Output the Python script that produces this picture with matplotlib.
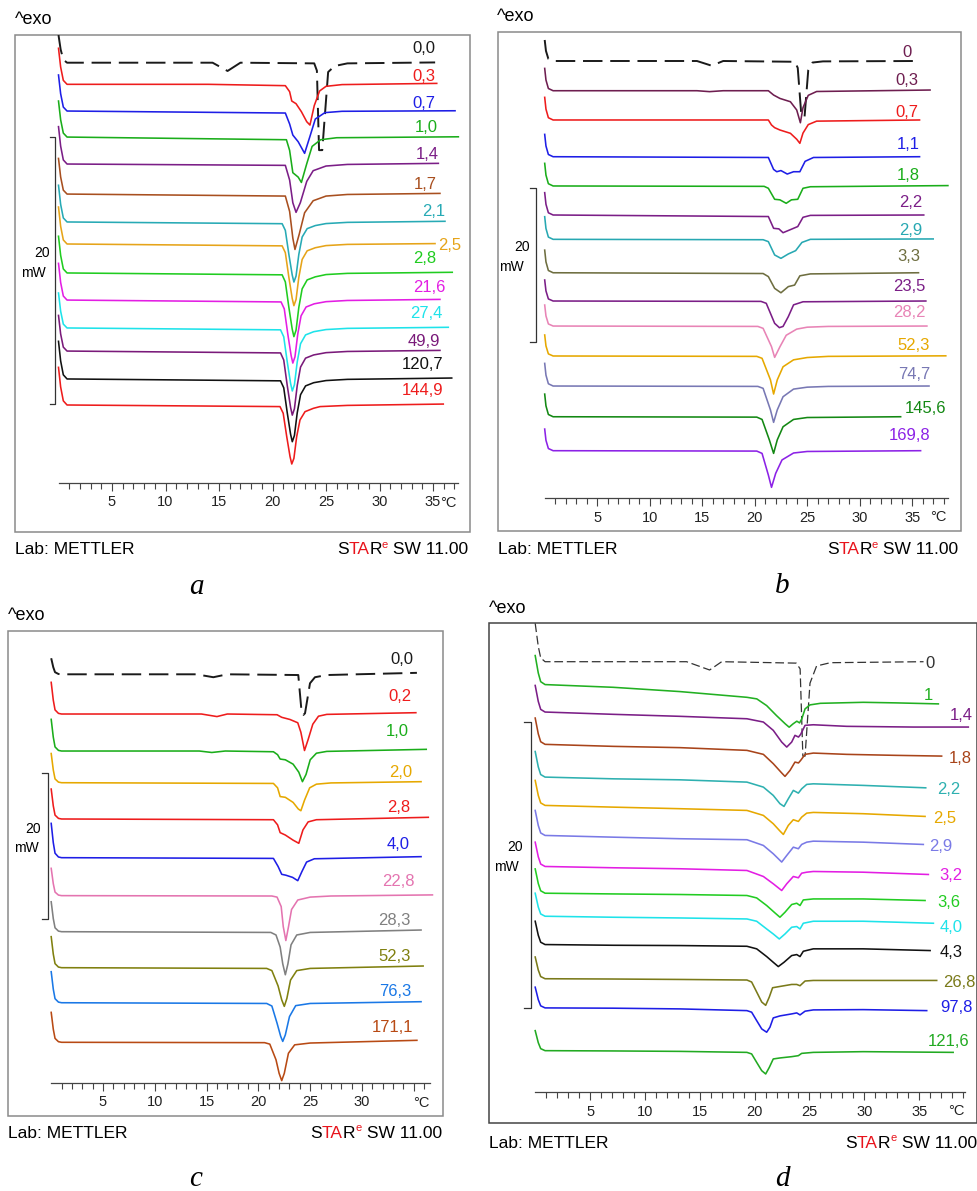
import matplotlib
matplotlib.use("Agg")
import matplotlib.pyplot as plt
from matplotlib.patches import Rectangle
from matplotlib.ticker import FixedLocator, FixedFormatter

W, H = 977, 1191
NARROW = ["Liberation Sans Narrow", "Liberation Sans", "DejaVu Sans"]
SANS = ["Liberation Sans", "DejaVu Sans"]
SERIF = ["Liberation Serif", "DejaVu Serif"]
RED = "#e8141c"

# ---------------- panel a  (T in degC, heat flow in mW, relative to each baseline) ----------------
a_labels = ["0,0", "0,3", "0,7", "1,0", "1,4", "1,7", "2,1", "2,5", "2,8", "21,6", "27,4", "49,9", "120,7", "144,9"]
a_colors = ["#1a1a1a", "#ee1c1c", "#1e1ee6", "#1aad1a", "#7b1e87", "#a84f1f", "#27aab5", "#e6a419",
            "#20cc20", "#e31ee3", "#1ee3ea", "#7a1a7a", "#111111", "#ee1c1c"]
a_base = [0, -1.62, -3.62, -5.57, -7.59, -9.84, -11.93, -13.58, -15.75, -17.78, -19.87, -21.6, -23.69, -25.64]
a_start = [2.07, 2.7, 2.7, 2.7, 2.8, 2.67, 2.75, 2.77, 2.75, 2.75, 2.62, 2.67, 2.82, 2.82]
a_start_shape = [(0.0, 1.0), (0.2, 0.48), (0.45, 0.11)]
a_curves = [
    [(0.8, 0), (14.4, 0), (15.8, -0.62), (17.0, 0), (23.9, -0.05), (24.15, -0.6), (24.35, -6.55), (24.65, -6.55),
     (25.2, -0.7), (25.8, -0.25), (27, -0.05), (35.2, 0.02)],
    [(0.8, 0), (14, 0), (21.2, -0.1), (21.6, -0.55), (21.8, -1.25), (22.2, -1.45), (22.7, -2.05), (23.2, -2.8),
     (23.5, -3.05), (23.9, -1.6), (24.4, -0.5), (25.0, -0.15), (26.5, -0.02), (35.35, 0.07)],
    [(0.8, 0), (21.2, -0.15), (21.6, -0.97), (21.9, -1.8), (22.4, -2.3), (23.0, -3.17), (23.5, -1.9), (24.0, -0.6),
     (24.9, -0.12), (26.5, -0.02), (37.06, 0.02)],
    [(0.8, 0), (21.3, -0.2), (21.6, -1.0), (21.9, -2.67), (22.4, -3.0), (22.7, -3.4), (23.2, -2.0), (23.7, -0.7),
     (24.5, -0.2), (26, -0.05), (37.37, 0.02)],
    [(0.8, 0), (21.2, -0.1), (21.6, -1.2), (21.9, -2.9), (22.2, -3.62), (22.6, -2.9), (23.2, -1.3), (23.8, -0.5),
     (25, -0.15), (27, -0.03), (35.5, 0.05)],
    [(0.8, 0), (21.2, -0.15), (21.6, -1.3), (21.9, -3.3), (22.1, -4.15), (22.5, -3.0), (23.0, -1.4), (23.8, -0.5),
     (25, -0.15), (27, -0.03), (35.65, 0.05)],
    [(0.8, 0), (20.9, -0.13), (21.2, -0.63), (21.53, -2.43), (21.84, -3.96), (22.0, -4.5), (22.2, -4.05),
     (22.46, -2.43), (22.77, -1.13), (23.24, -0.5), (24.0, -0.27), (25, -0.12), (27, -0.03), (36.12, 0.05)],
    [(0.8, 0), (20.9, -0.14), (21.2, -0.65), (21.53, -2.5), (21.84, -4.07), (22.0, -4.62), (22.2, -4.16),
     (22.46, -2.5), (22.77, -1.16), (23.24, -0.51), (24.0, -0.28), (25, -0.12), (27, -0.03), (35.19, 0.03)],
    [(0.8, 0), (20.9, -0.14), (21.2, -0.67), (21.53, -2.58), (21.84, -4.2), (22.0, -4.77), (22.2, -4.29),
     (22.46, -2.58), (22.77, -1.19), (23.24, -0.52), (24.0, -0.29), (25, -0.12), (27, -0.03), (36.8, 0.05)],
    [(0.8, 0), (20.8, -0.14), (21.1, -0.66), (21.43, -2.55), (21.74, -4.15), (21.9, -4.72), (22.1, -4.25),
     (22.36, -2.55), (22.67, -1.18), (23.14, -0.52), (23.9, -0.28), (25, -0.12), (27, -0.03), (35.65, 0.05)],
    [(0.8, 0), (20.75, -0.14), (21.05, -0.66), (21.38, -2.55), (21.69, -4.15), (21.85, -4.72), (22.05, -4.25),
     (22.31, -2.55), (22.62, -1.18), (23.09, -0.52), (23.85, -0.28), (25, -0.12), (27, -0.03), (36.43, 0.05)],
    [(0.8, 0), (20.75, -0.14), (21.05, -0.67), (21.38, -2.59), (21.69, -4.22), (21.85, -4.8), (22.05, -4.32),
     (22.31, -2.59), (22.62, -1.2), (23.09, -0.53), (23.85, -0.29), (25, -0.12), (27, -0.03), (35.65, 0.05)],
    [(0.8, 0), (20.75, -0.14), (21.05, -0.66), (21.38, -2.54), (21.69, -4.14), (21.85, -4.7), (22.05, -4.23),
     (22.31, -2.54), (22.62, -1.18), (23.09, -0.52), (23.85, -0.28), (25, -0.12), (27, -0.03), (36.75, 0.07)],
    [(0.8, 0), (20.7, -0.12), (21.0, -0.62), (21.33, -2.37), (21.64, -3.87), (21.8, -4.42), (22.0, -4.0),
     (22.26, -2.37), (22.57, -1.12), (23.04, -0.5), (23.82, -0.25), (24.44, -0.12), (27, -0.03), (35.96, 0.07)],
]
a_label_x = [35.2, 35.2, 35.2, 35.4, 35.5, 35.35, 36.12, 37.68, 35.35, 36.19, 35.87, 35.65, 35.96, 35.96]
a_label_dy = [1.1, 0.55, 0.6, 0.75, 0.75, 0.75, 0.75, -0.15, 1.05, 0.97, 1.1, 0.75, 1.1, 1.1]

# ---------------- panel b ----------------
b_labels = ["0", "0,3", "0,7", "1,1", "1,8", "2,2", "2,9", "3,3", "23,5", "28,2", "52,3", "74,7", "145,6", "169,8"]
b_colors = ["#1a1a1a", "#6e1e50", "#ee1c1c", "#1e1ee6", "#1aad1a", "#7b1e87", "#27a8b2", "#6e6e40",
            "#7b1e87", "#e884b6", "#e6a800", "#7878b4", "#138813", "#8c22e6"]
b_label_colors = ["#6e1e50"] + b_colors[1:]
b_base = [0, -3.86, -7.66, -12.43, -16.23, -20.0, -23.16, -27.5, -31.17, -34.42, -38.31, -42.21, -46.2, -50.61]
b_start = [2.73, 2.9, 2.94, 2.9, 2.94, 2.9, 2.94, 2.94, 2.73, 2.73, 2.73, 2.94, 2.94, 2.81]
b_start_shape = [(0.0, 1.0), (0.12, 0.48), (0.35, 0.1)]
b_curves = [
    [(0.8, 0), (14.5, 0), (15.9, -0.61), (17.0, 0), (23.84, -0.1), (24.1, -0.9), (24.45, -7.2), (24.75, -7.2),
     (25.1, -1.2), (25.5, -0.2), (26.5, -0.05), (35.3, 0)],
    [(0.8, 0), (14.5, 0), (15.7, -0.12), (17, 0), (21.3, 0), (21.8, -0.56), (22.4, -1.0), (23.4, -1.43),
     (24.0, -2.5), (24.35, -4.16), (24.6, -2.2), (25.1, -0.6), (25.9, -0.1), (36.7, 0.09)],
    [(0.8, 0), (21.3, 0), (21.6, -0.65), (21.9, -1.0), (22.4, -1.3), (23.4, -1.73), (24.0, -2.5), (24.3, -3.03),
     (24.6, -1.7), (25.1, -0.6), (25.9, -0.15), (35.7, 0.0)],
    [(0.8, 0), (21.3, -0.1), (21.8, -1.65), (22.1, -1.95), (22.5, -1.8), (23.1, -2.25), (23.7, -1.95),
     (24.3, -1.95), (24.8, -0.6), (25.6, -0.1), (35.7, 0.0)],
    [(0.8, 0), (20.9, -0.05), (21.3, -0.3), (21.9, -1.73), (22.4, -1.8), (23.0, -2.25), (23.5, -1.8),
     (24.1, -1.73), (24.6, -0.3), (25.3, -0.1), (38.4, 0.05)],
    [(0.8, 0), (21.3, -0.2), (21.8, -1.73), (22.3, -1.8), (22.7, -2.3), (23.4, -1.9), (24.1, -1.5),
     (24.6, -0.3), (25.3, -0.05), (36.1, 0.0)],
    [(0.8, 0), (20.8, -0.05), (21.3, -0.3), (21.9, -2.03), (22.5, -2.47), (23.2, -1.9), (23.9, -1.47),
     (24.5, -0.4), (25.3, 0), (37.0, 0.05)],
    [(0.8, 0), (20.8, -0.1), (21.3, -0.5), (21.9, -2.03), (22.5, -2.6), (23.2, -1.8), (23.8, -1.6),
     (24.3, -0.4), (25.3, -0.15), (35.6, 0.0)],
    [(0.8, 0), (20.6, -0.05), (21.1, -0.3), (21.9, -2.9), (22.35, -3.46), (22.7, -3.3), (23.2, -2.03),
     (23.7, -0.5), (24.6, -0.1), (36.3, 0.0)],
    [(0.8, 0), (20.3, -0.05), (20.8, -0.3), (21.6, -2.68), (21.9, -4.07), (22.4, -2.7), (23.0, -1.2),
     (24.0, -0.4), (25.0, -0.15), (27, -0.05), (36.4, 0.0)],
    [(0.8, 0), (20.2, -0.05), (20.7, -0.3), (21.5, -3.1), (21.8, -4.94), (22.15, -3.1), (22.7, -1.4),
     (23.7, -0.5), (25.0, -0.2), (27, -0.05), (38.2, 0.02)],
    [(0.8, 0), (20.3, -0.05), (20.8, -0.3), (21.5, -3.1), (21.8, -4.72), (22.15, -3.1), (22.7, -1.39),
     (23.7, -0.4), (25, -0.15), (27, -0.05), (36.6, 0.0)],
    [(0.8, 0), (20.2, -0.05), (20.7, -0.35), (21.4, -3.03), (21.8, -4.76), (22.15, -3.0), (22.7, -1.3),
     (23.7, -0.35), (25, -0.1), (33.9, 0.0)],
    [(0.8, 0), (20.2, -0.05), (20.7, -0.35), (21.3, -3.16), (21.6, -4.76), (22.0, -2.94), (22.6, -1.2),
     (23.7, -0.3), (25, -0.1), (35.8, 0.0)],
]
b_label_x = [34.95, 35.58, 35.58, 35.74, 35.74, 36.0, 36.0, 35.74, 36.22, 36.31, 36.7, 36.7, 38.29, 36.7]
b_label_dy = [1.04, 1.39, 1.0, 1.65, 1.3, 1.65, 1.2, 2.17, 1.86, 1.78, 1.39, 1.56, 1.09, 1.91]

# ---------------- panel c ----------------
c_labels = ["0,0", "0,2", "1,0", "2,0", "2,8", "4,0", "22,8", "28,3", "52,3", "76,3", "171,1"]
c_colors = ["#1a1a1a", "#ee1c1c", "#1aad1a", "#e6a800", "#ee1c1c", "#1e1ee6", "#e474b0", "#808080",
            "#80800f", "#1a78e6", "#b84a14"]
c_base = [0, -5.44, -10.51, -14.85, -19.82, -25.12, -30.32, -35.26, -40.19, -44.99, -50.41]
c_start = [2.2, 4.34, 4.34, 4.0, 4.1, 4.7, 3.74, 4.1, 4.25, 4.25, 4.1]
c_start_shape = [(0.0, 1.0), (0.2, 0.44), (0.37, 0.13), (0.7, 0.02)]
c_curves = [
    [(1.0, 0), (14.0, 0), (15.65, -0.4), (17.0, 0), (23.85, -0.1), (24.18, -5.34), (24.34, -5.57), (24.5, -5.34),
     (24.98, -1.23), (25.46, -0.4), (26.6, -0.1), (35.3, 0.2)],
    [(1.0, 0), (14.5, 0), (16.0, -0.35), (17.0, 0), (21.8, -0.1), (22.25, -0.45), (23.05, -0.75), (23.8, -1.2),
     (24.1, -2.5), (24.45, -5.0), (24.8, -3.5), (25.25, -1.4), (25.8, -0.3), (26.6, -0.05), (35.2, 0.18)],
    [(1.0, 0), (14.3, 0), (15.5, -0.2), (16.8, 0), (21.45, -0.1), (21.85, -0.5), (22.1, -1.1), (22.6, -1.2),
     (23.35, -1.8), (23.9, -2.9), (24.25, -4.2), (24.6, -3.2), (25.0, -1.2), (25.6, -0.3), (26.6, -0.05),
     (36.2, 0.23)],
    [(1.0, 0), (21.45, -0.1), (21.85, -0.7), (22.1, -1.9), (22.6, -2.0), (23.35, -2.7), (23.85, -3.6),
     (24.1, -3.84), (24.45, -2.4), (24.95, -0.7), (25.6, -0.2), (27, -0.03), (35.7, 0.14)],
    [(1.0, 0), (21.45, -0.1), (21.85, -0.8), (22.1, -1.87), (22.6, -2.2), (23.35, -2.9), (23.9, -3.33),
     (24.3, -1.5), (24.8, -0.4), (25.6, -0.1), (36.4, 0.23)],
    [(1.0, 0), (21.45, -0.1), (21.9, -1.2), (22.25, -2.28), (22.65, -2.4), (23.3, -2.7), (23.8, -3.15),
     (24.2, -1.9), (24.65, -0.6), (25.4, -0.15), (35.7, 0.14)],
    [(1.0, 0), (21.3, -0.05), (21.8, -0.2), (22.2, -1.5), (22.4, -4.25), (22.65, -6.15), (22.9, -4.3),
     (23.2, -1.9), (23.8, -0.6), (25.0, -0.2), (27, -0.05), (36.8, 0.1)],
    [(1.0, 0), (21.2, -0.1), (21.7, -0.45), (22.1, -2.1), (22.35, -4.4), (22.6, -5.9), (22.85, -4.4),
     (23.15, -1.8), (23.7, -0.45), (25, -0.1), (35.7, 0.23)],
    [(1.0, 0), (20.8, -0.1), (21.3, -0.4), (21.9, -2.5), (22.25, -4.4), (22.5, -5.3), (22.75, -4.2),
     (23.1, -1.7), (23.7, -0.4), (25, -0.1), (35.9, 0.23)],
    [(1.0, 0), (20.8, -0.1), (21.3, -0.45), (21.8, -2.8), (22.15, -4.6), (22.35, -5.3), (22.6, -4.4),
     (23.0, -1.9), (23.6, -0.4), (25, -0.1), (35.7, 0.14)],
    [(1.0, 0), (20.6, -0.05), (21.1, -0.25), (21.7, -2.4), (22.0, -4.25), (22.25, -5.25), (22.5, -4.25),
     (22.9, -1.5), (23.5, -0.35), (25, -0.1), (35.3, 0.27)],
]
c_label_x = [34.92, 34.73, 34.54, 34.89, 34.63, 34.63, 35.12, 34.7, 34.7, 34.73, 34.95]
c_label_dy = [1.96, 2.37, 2.64, 1.37, 1.6, 1.84, 1.92, 1.6, 1.5, 1.5, 2.05]

# ---------------- panel d ----------------
d_labels = ["0", "1", "1,4", "1,8", "2,2", "2,5", "2,9", "3,2", "3,6", "4,0", "4,3", "26,8", "97,8", "121,6"]
d_colors = ["#333333", "#22b022", "#7b1e87", "#a8441a", "#2eb0b0", "#e6a800", "#7a7ae6", "#e31ee3",
            "#22cc22", "#1ee3ea", "#111111", "#7a7a1a", "#1e1ee6", "#22aa22"]
d_base = [0, -1.6, -3.52, -5.78, -8.07, -10.05, -12.15, -14.32, -16.19, -17.8, -19.78, -22.17, -24.21, -27.2]
d_start = [2.68, 2.03, 1.86, 1.84, 1.79, 1.75, 1.75, 1.7, 1.7, 1.61, 1.63, 1.52, 1.45, 1.4]
d_start_shape = [(0.0, 1.0), (0.28, 0.4), (0.5, 0.1)]
d_curves = [
    [(0.9, 0), (13.8, 0), (15.9, -0.58), (17.0, 0), (23.8, -0.1), (24.15, -0.5), (24.4, -6.6), (24.6, -6.6),
     (25.05, -1.5), (25.65, -0.3), (26.9, -0.07), (35.4, 0)],
    [(0.9, 0), (7.1, -0.19), (13.2, -0.49), (19.3, -0.89), (20.2, -1.0), (21.1, -1.47), (22.0, -2.17),
     (22.8, -2.75), (23.15, -2.98), (23.5, -2.75), (23.85, -2.56), (24.1, -2.68), (24.3, -2.4), (24.6, -1.7),
     (25.05, -1.42), (26.0, -1.31), (29.9, -1.24), (32.9, -1.28), (36.75, -1.35)],
    [(0.9, 0), (7.1, -0.16), (13.2, -0.3), (19.3, -0.47), (20.8, -0.7), (21.7, -1.28), (22.47, -2.1),
     (22.93, -2.45), (23.38, -2.1), (23.68, -1.63), (24.0, -1.75), (24.2, -1.56), (24.6, -0.93),
     (25.35, -0.89), (28.4, -1.0), (34.47, -1.05), (39.48, -1.05)],
    [(0.9, 0), (7.1, -0.14), (13.2, -0.23), (19.3, -0.42), (20.8, -0.7), (21.7, -1.35), (22.47, -2.0),
     (22.77, -2.24), (23.23, -1.82), (23.68, -1.24), (24.0, -1.3), (24.2, -1.12), (24.6, -0.7),
     (25.35, -0.61), (28.4, -0.7), (32.95, -0.77), (37.05, -0.82)],
    [(0.9, 0), (7.1, -0.12), (13.2, -0.19), (19.3, -0.35), (20.8, -0.7), (21.7, -1.28), (22.31, -1.86),
     (22.68, -2.05), (23.07, -1.52), (23.53, -0.93), (23.99, -1.12), (24.29, -0.82), (24.75, -0.51),
     (25.35, -0.47), (29.9, -0.58), (35.6, -0.75)],
    [(0.9, 0), (7.1, -0.12), (13.2, -0.23), (19.3, -0.35), (20.8, -0.7), (21.7, -1.28), (22.31, -1.79),
     (22.62, -2.03), (23.07, -1.4), (23.53, -1.0), (23.99, -1.12), (24.29, -0.82), (24.75, -0.54),
     (25.35, -0.49), (29.9, -0.58), (35.54, -0.77)],
    [(0.9, 0), (7.1, -0.12), (13.2, -0.23), (19.3, -0.3), (20.8, -0.7), (21.7, -1.28), (22.47, -1.86),
     (22.93, -1.4), (23.53, -0.82), (23.99, -0.93), (24.29, -0.63), (24.75, -0.47), (25.35, -0.4),
     (29.9, -0.47), (35.38, -0.63)],
    [(0.9, 0), (7.1, -0.09), (13.2, -0.16), (19.3, -0.28), (20.8, -0.7), (21.7, -1.21), (22.47, -1.68),
     (22.93, -1.21), (23.53, -0.7), (23.99, -0.79), (24.29, -0.47), (24.75, -0.4), (25.35, -0.35),
     (29.9, -0.4), (35.84, -0.56)],
    [(0.9, 0), (7.1, -0.05), (13.2, -0.09), (19.3, -0.16), (20.19, -0.33), (21.1, -0.86), (21.86, -1.38),
     (22.31, -1.68), (22.77, -1.33), (23.38, -0.79), (23.84, -0.7), (24.14, -0.86), (24.44, -0.47),
     (25.35, -0.4), (29.9, -0.4), (35.54, -0.51)],
    [(0.9, 0), (7.1, -0.07), (13.2, -0.12), (19.3, -0.19), (20.19, -0.35), (21.1, -0.89), (21.7, -1.24),
     (22.25, -1.59), (22.77, -1.24), (23.38, -0.77), (23.84, -0.72), (24.14, -0.89), (24.44, -0.49),
     (25.35, -0.35), (29.9, -0.35), (36.3, -0.49)],
    [(0.9, 0), (7.1, -0.05), (13.2, -0.07), (19.3, -0.12), (20.19, -0.3), (21.1, -0.84), (21.7, -1.24),
     (22.16, -1.54), (22.68, -1.24), (23.38, -0.77), (23.84, -0.7), (24.14, -0.84), (24.44, -0.47),
     (25.35, -0.3), (29.9, -0.3), (36.0, -0.42)],
    [(0.9, 0), (7.1, -0.02), (13.2, -0.05), (19.3, -0.09), (19.73, -0.23), (20.19, -0.93), (20.65, -1.63),
     (21.01, -1.86), (21.34, -1.28), (21.64, -0.63), (22.31, -0.54), (23.38, -0.4), (23.84, -0.4),
     (24.14, -0.49), (24.6, -0.16), (25.35, -0.12), (29.9, -0.12), (36.6, -0.12)],
    [(0.9, 0), (7.1, -0.02), (13.2, -0.07), (19.3, -0.19), (19.73, -0.3), (20.19, -0.89), (20.65, -1.47),
     (21.1, -1.7), (21.4, -1.35), (21.7, -0.7), (22.31, -0.56), (23.38, -0.42), (23.84, -0.35),
     (24.14, -0.49), (24.6, -0.23), (25.35, -0.14), (29.9, -0.12), (35.69, -0.19)],
    [(0.9, 0), (7.1, -0.02), (13.2, -0.05), (19.3, -0.12), (19.73, -0.23), (20.19, -0.82), (20.65, -1.4),
     (21.01, -1.63), (21.34, -1.17), (21.7, -0.58), (22.31, -0.51), (23.38, -0.42), (23.99, -0.35),
     (24.29, -0.19), (25.35, -0.12), (29.9, -0.07), (38.1, -0.12)],
]
d_label_x = [35.53, 36.29, 39.93, 37.66, 36.6, 36.29, 35.93, 36.84, 36.66, 36.84, 36.84, 37.2, 36.9, 39.57]
d_label_dy = [-0.11, -0.77, -0.23, -1.0, -0.88, -0.93, -0.77, -0.63, -0.63, -0.77, -0.54, -0.24, 0.0, 0.65]
d_label_ha = ["left", "right", "right", "left", "left", "left", "left", "left", "left", "left", "left",
              "left", "left", "right"]

# temperature axis ticks
major_ticks = [5, 10, 15, 20, 25, 30, 35]
tick_text = ["5", "10", "15", "20", "25", "30", "35"]
tick_text_c = ["5", "10", "15", "20", "25", "30", ""]

# ---------------- page geometry (pixels) ----------------
geo_a = dict(frame=(15, 35, 470, 532), zero=58.5, ppd=10.7, base=62.7, ppm=13.35, axis=483, axis_end=37.37,
             bar=(55, 137, 50), t20=(41.7, 253.3), tmw=(33, 273.3), exo=(15, 20), lab=(15, 550),
             star=(468.3, 550), letter=("a", 196.7, 594), degc=(448, 503), fc="#8a8a8a", ticks=tick_text)
geo_b = dict(frame=(497.7, 32, 961, 531), zero=544.7, ppd=10.5, base=61, ppm=7.7, axis=498, axis_end=38.4,
             bar=(535.7, 188, 530), t20=(521.7, 246.7), tmw=(511.7, 266.7), exo=(497.3, 16.7), lab=(498, 550),
             star=(958.3, 550), letter=("b", 782.3, 593), degc=(938.3, 517), fc="#8a8a8a", ticks=tick_text)
geo_c = dict(frame=(8.3, 631, 443.3, 1116), zero=51.2, ppd=10.36, base=674.3, ppm=7.3, axis=1083,
             axis_end=36.56, bar=(47.7, 773.3, 41.7), t20=(33, 829), tmw=(26, 848), exo=(8.3, 616),
             lab=(8.3, 1133), star=(441.7, 1133), letter=("c", 196, 1186), degc=(421.7, 1103), fc="#8a8a8a",
             ticks=tick_text_c)
geo_d = dict(frame=(489.3, 623, 976.5, 1123), zero=535.2, ppd=10.97, base=661.7, ppm=14.3, axis=1092,
             axis_end=39.17, bar=(530.7, 721.7, 524.3), t20=(515, 847.3), tmw=(506, 866.7), exo=(489.3, 608.3),
             lab=(489.3, 1143.3), star=(976.7, 1143.3), letter=("d", 782.3, 1186), degc=(956.7, 1111),
             fc="#444444", ticks=tick_text)

fig = plt.figure(figsize=(W / 100, H / 100), dpi=100)


def fx(x):
    return x / W


def fy(y):
    return 1 - y / H


def star_text(ax, x, y):
    # "STAR^e SW 11.00" with the red letters, chained right to left
    kw = dict(fontsize=12.5, family=SANS, annotation_clip=False)
    t_sw = ax.annotate(" SW 11.00", xy=(fx(x), fy(y)), xycoords="figure fraction", ha="right", va="center",
                       color="black", **kw)
    t_e = ax.annotate("e", xy=(0, 0.5), xycoords=(t_sw, t_sw), ha="right", va="bottom", color=RED,
                      fontsize=8, family=SANS, annotation_clip=False)
    t_r = ax.annotate("R", xy=(0, 0), xycoords=(t_e, t_sw), ha="right", va="bottom", color="black", **kw)
    t_ta = ax.annotate("TA", xy=(0, 0), xycoords=t_r, ha="right", va="bottom", color=RED, **kw)
    ax.annotate("S", xy=(0, 0), xycoords=t_ta, ha="right", va="bottom", color="black", **kw)


def draw_panel(g, labels, colors, base, start, shape, curves, lab_x, lab_dy, lab_ha=None, lab_col=None,
               dash=(0, (10, 4)), dash_lw=1.4):
    x0, y0, x1, y1 = g["frame"]
    ax = fig.add_axes([fx(x0), fy(y1), (x1 - x0) / W, (y1 - y0) / H])
    ax.set_xlim((x0 - g["zero"]) / g["ppd"], (x1 - g["zero"]) / g["ppd"])
    ax.set_ylim(-(y1 - g["base"]) / g["ppm"], (g["base"] - y0) / g["ppm"])
    ax.patch.set_alpha(0)
    for s in ["left", "right", "top"]:
        ax.spines[s].set_visible(False)
    axis_y = -(g["axis"] - g["base"]) / g["ppm"]
    ax.spines["bottom"].set_position(("data", axis_y))
    ax.spines["bottom"].set_bounds(0, g["axis_end"])
    ax.spines["bottom"].set_color("#444444")
    ax.spines["bottom"].set_linewidth(0.9)
    ax.add_patch(Rectangle((0, 0), 1, 1, transform=ax.transAxes, fill=False, ec=g["fc"], lw=1.1,
                           clip_on=False))
    ax.set_yticks([])
    ax.xaxis.set_major_locator(FixedLocator(major_ticks))
    ax.xaxis.set_major_formatter(FixedFormatter(g["ticks"]))
    ax.xaxis.set_minor_locator(FixedLocator(list(range(1, int(g["axis_end"]) + 1))))
    ax.tick_params(axis="x", which="major", direction="out", length=5.5, width=0.8, color="#444444",
                   pad=3.5, labelsize=10.5, labelcolor="#222222")
    ax.tick_params(axis="x", which="minor", direction="out", length=4, width=0.8, color="#444444")
    for t in ax.get_xticklabels():
        t.set_family(NARROW)

    for i, pts in enumerate(curves):
        t = [p[0] for p in shape] + [p[0] for p in pts]
        y = [base[i] + start[i] * p[1] for p in shape] + [base[i] + p[1] for p in pts]
        if i == 0:
            ax.plot(t, y, color=colors[i], lw=dash_lw, linestyle=dash)
        else:
            ax.plot(t, y, color=colors[i], lw=1.15)
        ha = lab_ha[i] if lab_ha else "right"
        col = lab_col[i] if lab_col else colors[i]
        ax.text(lab_x[i], base[i] + lab_dy[i], labels[i], ha=ha, va="center", color=col, fontsize=12,
                family=NARROW)

    # 20 mW scale bracket
    bx, btop, bleft = g["bar"]
    xb = (bx - g["zero"]) / g["ppd"]
    xl = (bleft - g["zero"]) / g["ppd"]
    yt = -(btop - g["base"]) / g["ppm"]
    ax.plot([xl, xb, xb, xl], [yt, yt, yt - 20, yt - 20], color="#333333", lw=0.9, clip_on=False)
    fig.text(fx(g["t20"][0]), fy(g["t20"][1]), "20", ha="center", va="center", fontsize=10, family=NARROW)
    fig.text(fx(g["tmw"][0]), fy(g["tmw"][1]), "mW", ha="center", va="center", fontsize=10, family=NARROW)

    fig.text(fx(g["degc"][0]), fy(g["degc"][1]), "\u00b0C", ha="center", va="center", fontsize=10.5,
             family=NARROW, color="#222222")
    fig.text(fx(g["exo"][0]), fy(g["exo"][1]), "^exo", ha="left", va="center", fontsize=13, family=SANS)
    fig.text(fx(g["lab"][0]), fy(g["lab"][1]), "Lab: METTLER", ha="left", va="center", fontsize=12.5,
             family=SANS)
    star_text(ax, *g["star"])
    letter, lx, ly = g["letter"]
    fig.text(fx(lx), fy(ly), letter, ha="center", va="baseline", fontsize=21, family=SERIF, style="italic")
    return ax


draw_panel(geo_a, a_labels, a_colors, a_base, a_start, a_start_shape, a_curves, a_label_x, a_label_dy)
draw_panel(geo_b, b_labels, b_colors, b_base, b_start, b_start_shape, b_curves, b_label_x, b_label_dy,
           lab_col=b_label_colors)
draw_panel(geo_c, c_labels, c_colors, c_base, c_start, c_start_shape, c_curves, c_label_x, c_label_dy)
draw_panel(geo_d, d_labels, d_colors, d_base, d_start, d_start_shape, d_curves, d_label_x, d_label_dy,
           lab_ha=d_label_ha, dash=(0, (7, 3)), dash_lw=0.9)

fig.savefig("out.png", dpi=100)
